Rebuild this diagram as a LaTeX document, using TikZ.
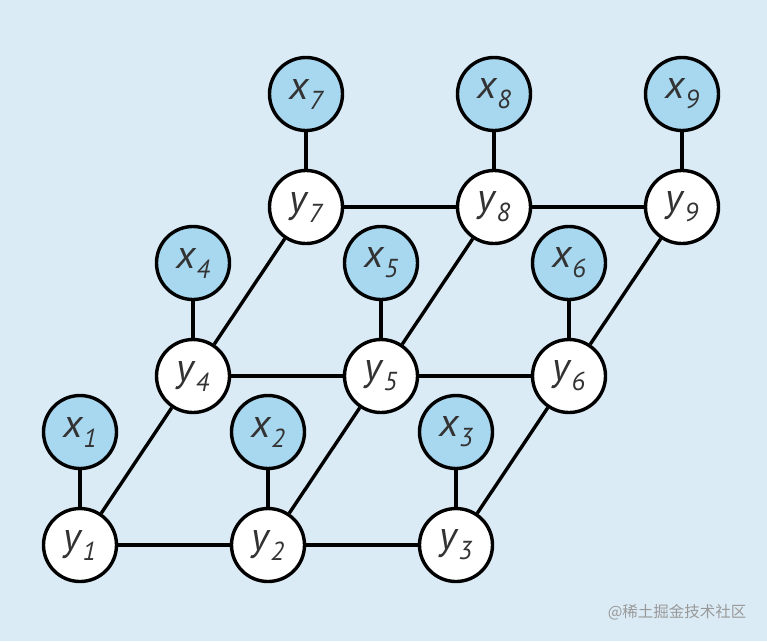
\documentclass[tikz,border=0pt]{standalone}
\usepackage{fontspec}
\setmainfont{PT Sans}
\newfontfamily\cjkfont{Noto Sans CJK SC}
\definecolor{bgc}{HTML}{DBEBF5}
\definecolor{xfill}{HTML}{A8D8F0}
\definecolor{txt}{HTML}{333333}
\newcommand{\lbl}[2]{#1\kern1pt\raisebox{-10pt}{\fontsize{26}{26}\selectfont #2}}
\begin{document}
\begin{tikzpicture}[x=1pt,y=-1pt,
  vnode/.style={circle,draw=black,line width=3.4pt,minimum size=73pt,inner sep=0pt,
    font=\fontsize{40}{40}\selectfont\itshape,text=txt},
  ynode/.style={vnode,fill=white},
  xnode/.style={vnode,fill=xfill},
  edge/.style={line width=3.4pt,draw=black}]
\fill[bgc] (0,0) rectangle (767,641);
\useasboundingbox (0,0) rectangle (767,641);
\foreach \i/\x/\y in {1/80/545,2/268/545,3/456/545,4/193/376,5/381/376,6/569/376,7/306/207,8/494/207,9/682/207}{
  \node[ynode] (y\i) at (\x,\y) {\lbl{y}{\i}};
  \node[xnode] (x\i) at (\x,\y-113) {\lbl{x}{\i}};
}
\foreach \i in {1,...,9}{\draw[edge] (x\i) -- (y\i);}
\draw[edge] (y1) -- (y2); \draw[edge] (y2) -- (y3);
\draw[edge] (y4) -- (y5); \draw[edge] (y5) -- (y6);
\draw[edge] (y7) -- (y8); \draw[edge] (y8) -- (y9);
\draw[edge] (y1) -- (y4); \draw[edge] (y4) -- (y7);
\draw[edge] (y2) -- (y5); \draw[edge] (y5) -- (y8);
\draw[edge] (y3) -- (y6); \draw[edge] (y6) -- (y9);
\node[font=\cjkfont\fontsize{15.5}{15.5}\selectfont,text=black!40,anchor=east] (wm) at (750,612) {@稀土掘金技术社区};
\end{tikzpicture}
\end{document}
